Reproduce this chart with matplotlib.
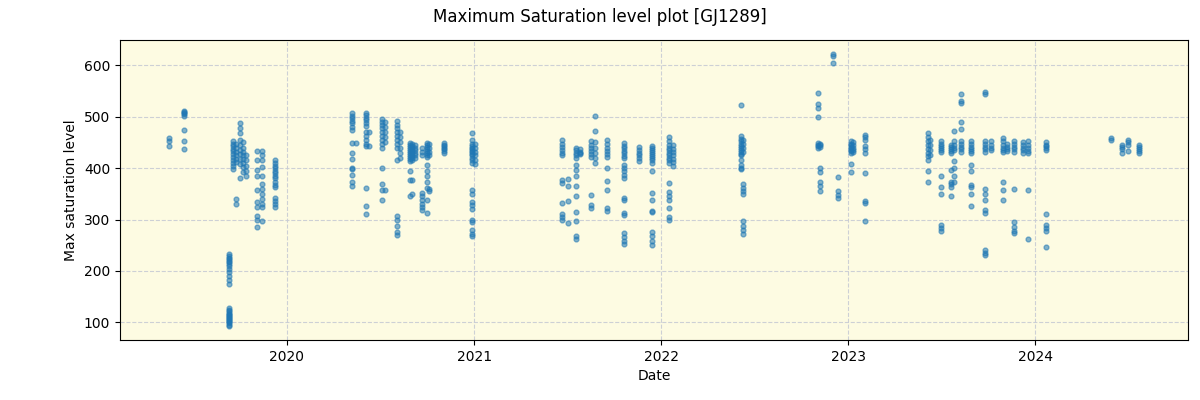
import matplotlib
matplotlib.use('Agg')
import matplotlib.pyplot as plt
import matplotlib.dates as mdates
import numpy as np
import pandas as pd

# observation nights and the max saturation levels measured on each
obs_dates = [
    '2019-05-15', '2019-06-14', '2019-09-10', '2019-09-18', '2019-09-24', '2019-10-01',
    '2019-10-07', '2019-10-13', '2019-11-03', '2019-11-13', '2019-12-09',
    '2020-05-08', '2020-05-15', '2020-06-03', '2020-06-09', '2020-07-04', '2020-07-10',
    '2020-08-03', '2020-08-09', '2020-08-28', '2020-09-02', '2020-09-08', '2020-09-20',
    '2020-09-30', '2020-10-05', '2020-11-03', '2020-12-27', '2021-01-03',
    '2021-06-21', '2021-07-02', '2021-07-19', '2021-07-27', '2021-08-16', '2021-08-25',
    '2021-09-17', '2021-10-19', '2021-11-19', '2021-12-14', '2022-01-15', '2022-01-24',
    '2022-06-06', '2022-06-10', '2022-11-02', '2022-11-07', '2022-12-02', '2022-12-11',
    '2023-01-06', '2023-01-10', '2023-02-03',
    '2023-06-06', '2023-06-10', '2023-07-01', '2023-07-20', '2023-07-27', '2023-08-09',
    '2023-08-28', '2023-09-25', '2023-10-06', '2023-10-29', '2023-11-06', '2023-11-20',
    '2023-12-07', '2023-12-17', '2024-01-22',
    '2024-05-27', '2024-06-17', '2024-06-29', '2024-07-22',
]

obs_levels = [
    [459, 452, 444],
    [512, 510, 508, 505, 502, 474, 453, 437],
    [232, 229, 226, 223, 220, 217, 213, 209, 204, 198, 190, 183, 175,
     127, 124, 121, 118, 116, 114, 112, 110, 108, 106, 104, 102, 100, 98, 95, 92],
    [452, 448, 443, 438, 433, 428, 422, 416, 410, 404, 398],
    [448, 440, 432, 425, 418, 412, 340, 330],
    [487, 478, 469, 455, 445, 436, 428, 418, 408, 380],
    [450, 440, 432, 425, 418, 410, 402, 392],
    [425, 415, 405, 395, 385],
    [433, 416, 397, 384, 358, 335, 325, 307, 286, 300],
    [433, 425, 416, 403, 385, 370, 360, 350, 340, 325, 297, 330],
    [416, 410, 405, 400, 395, 390, 385, 380, 374, 368, 364, 342, 336, 330, 325],
    [508, 502, 497, 492, 487, 480, 475, 449, 430, 418, 400, 398, 387, 374, 366],
    [449],
    [507, 503, 498, 493, 488, 482, 470, 462, 455, 448, 444, 362, 327, 311],
    [470, 444],
    [495, 490, 485, 478, 470, 462, 455, 448, 440, 400, 369, 358, 338],
    [490, 480, 470, 460, 450, 358],
    [492, 485, 478, 470, 462, 455, 447, 440, 416, 306, 300, 288, 275, 270],
    [470, 460, 450, 440, 430, 420],
    [449, 445, 441, 437, 433, 429, 425, 421, 417, 413, 394, 377, 345],
    [447, 443, 439, 435, 431, 427, 423, 419, 415, 377, 350],
    [445, 440, 435, 430, 425, 420],
    [352, 345, 338, 330, 325, 319, 440, 432, 425],
    [449, 445, 441, 437, 433, 429, 425, 421, 406, 395, 385, 374, 362, 338, 313],
    [447, 440, 432, 425, 360, 355],
    [449, 446, 443, 440, 437, 434, 430],
    [468, 455, 447, 443, 440, 437, 434, 431, 428, 425, 420, 415, 410,
     358, 350, 335, 328, 320, 300, 295, 280, 272, 267],
    [448, 440, 432, 425, 415, 408],
    [455, 448, 442, 436, 430, 426, 377, 371, 333, 311, 305, 300],
    [378, 365, 336, 294],
    [440, 435, 430, 425, 420, 407, 397, 384, 365, 345, 314, 297, 268, 262],
    [437, 432, 428, 430],
    [452, 446, 440, 434, 428, 422, 348, 328, 322],
    [502, 473, 450, 440, 430, 420, 410],
    [455, 448, 440, 434, 428, 422, 400, 375, 358, 322, 316],
    [449, 444, 439, 434, 429, 424, 420, 407, 400, 394, 387, 381,
     342, 338, 313, 309, 274, 266, 258, 252],
    [442, 436, 430, 425, 419, 413],
    [443, 440, 436, 432, 428, 424, 420, 416, 410, 395, 352, 338, 316, 315, 276, 268, 258, 250],
    [460, 452, 446, 440, 435, 430, 425, 420, 415, 410, 371, 354, 345, 338, 322, 305, 300],
    [445, 438, 432, 425, 418, 412, 405],
    [523, 462, 456, 452, 448, 444, 440, 436, 432, 428, 426, 416, 406, 400, 398],
    [455, 448, 440, 432, 370, 362, 355, 350, 297, 288, 280, 272],
    [547, 524, 518, 500, 449, 446, 443, 440],
    [448, 445, 441, 400, 392, 374, 365, 356],
    [623, 618, 605],
    [383, 356, 348, 342],
    [452, 448, 445, 442, 439, 436, 433, 430, 408, 392],
    [450, 445, 440, 435, 432],
    [465, 460, 455, 443, 438, 430, 390, 336, 332, 297],
    [469, 460, 452, 445, 438, 430, 424, 416, 394, 373],
    [455, 445, 435, 425],
    [452, 448, 444, 440, 436, 432, 384, 363, 349, 290, 284, 278],
    [445, 441, 437, 433, 430, 397, 374, 369, 364, 346],
    [472, 452, 445, 440, 435, 413, 400, 384, 374],
    [545, 530, 527, 489, 476, 452, 447, 442, 437, 432],
    [452, 447, 442, 437, 433, 430, 407, 395, 367, 364, 349, 327],
    [548, 545, 452, 447, 442, 437, 432, 360, 350, 338, 319, 313, 240, 235, 231],
    [452, 446, 440, 435],
    [459, 452, 446, 440, 436, 432, 374, 358, 338],
    [448, 442, 437, 433],
    [452, 447, 442, 437, 432, 359, 296, 285, 278, 273],
    [450, 445, 440, 435, 430],
    [452, 446, 440, 434, 430, 358, 262],
    [450, 446, 443, 440, 436, 310, 290, 284, 278, 246],
    [455, 458],
    [446, 442, 437, 430],
    [454, 450, 446, 433],
    [446, 442, 438, 434, 430],
]

counts = [len(v) for v in obs_levels]
dates = np.repeat(pd.to_datetime(obs_dates).values, counts)
levels = np.concatenate([np.array(v, dtype=float) for v in obs_levels])

fig, ax = plt.subplots(figsize=(12, 4), dpi=100)
fig.subplots_adjust(left=0.1, right=0.99, top=0.9, bottom=0.15)

ax.set_facecolor('#fdfbe2')
ax.scatter(dates, levels, s=12, color='#1f77b4', alpha=0.55)
ax.grid(True, linestyle='--', color='#c8ccd4', alpha=0.9)
ax.set_axisbelow(True)

ax.xaxis.set_major_locator(mdates.YearLocator())
ax.xaxis.set_major_formatter(mdates.DateFormatter('%Y'))

ax.set_xlabel('Date')
ax.set_ylabel('Max saturation level')
fig.suptitle('Maximum Saturation level plot [GJ1289]', fontsize=12)

fig.savefig('out.png')
